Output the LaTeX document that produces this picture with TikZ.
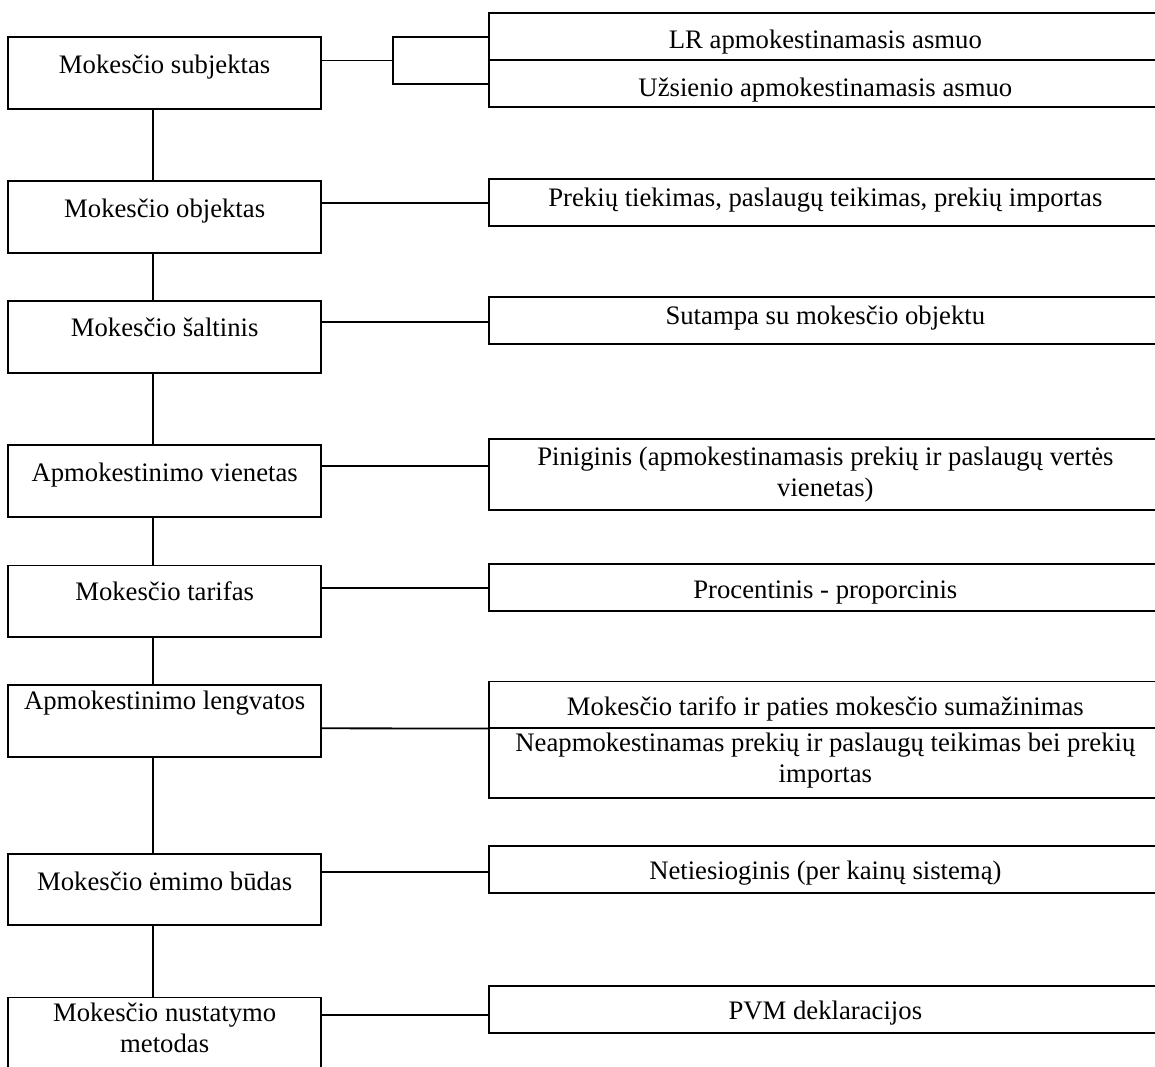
\documentclass[tikz,border=0pt]{standalone}
\usepackage{fontspec}
\setmainfont{Liberation Serif}
\begin{document}
\begin{tikzpicture}[x=1pt,y=-1pt,
  every node/.style={inner sep=0pt, outer sep=0pt},
  lbox/.style={draw, line width=1.8pt, rectangle, minimum width=312.7pt, minimum height=71.7pt},
  rbox/.style={draw, line width=1.8pt, rectangle, minimum width=673.3pt, minimum height=#1},
  rbox/.default=47pt,
  lbl/.style={anchor=mid, yshift=-6.5pt, font=\fontsize{26.7}{31}\selectfont},
  link/.style={line width=1.8pt}
]
\useasboundingbox (0,0) rectangle (1155,1066);
\clip (0,0) rectangle (1155,1066);

% left column: properties of the tax
\node[lbox] (L1) at (164.65,73.0) {};
\node[lbox] (L2) at (164.65,217.2) {};
\node[lbox] (L3) at (164.65,336.9) {};
\node[lbox] (L4) at (164.65,481.2) {};
\node[lbox] (L5) at (164.65,601.3) {};
\node[lbox] (L6) at (164.65,721.2) {};
\node[lbox] (L7) at (164.65,889.5) {};
\node[lbox] (L8) at (164.65,1033.3) {};

\node[lbl] (T1) at (164.65,65) {Mokesčio subjektas};
\node[lbl] (T2) at (164.65,209) {Mokesčio objektas};
\node[lbl] (T3) at (164.65,328) {Mokesčio šaltinis};
\node[lbl] (T4) at (164.65,473) {Apmokestinimo vienetas};
\node[lbl] (T5) at (164.65,592) {Mokesčio tarifas};
\node[lbl] (T6) at (164.65,701) {Apmokestinimo lengvatos};
\node[lbl] (T7) at (164.65,881.7) {Mokesčio ėmimo būdas};
\node[lbl] (T8a) at (164.65,1013) {Mokesčio nustatymo};
\node[lbl] (T8b) at (164.65,1044) {metodas};

% right column: their values
\node[rbox] (R1a) at (825.35,36.5) {};
\node[rbox] (R1b) at (825.35,83.8) {};
\node[rbox] (R2) at (825.35,202.5) {};
\node[rbox] (R3) at (825.35,320.7) {};
\node[rbox=70.7pt] (R4) at (825.35,474.7) {};
\node[rbox] (R5) at (825.35,587.5) {};
\node[rbox] (R6a) at (825.35,705.0) {};
\node[rbox=70pt] (R6b) at (825.35,763.3) {};
\node[rbox] (R7) at (825.35,869.2) {};
\node[rbox] (R8) at (825.35,1009.4) {};

\node[lbl] (S1a) at (825.35,40) {LR apmokestinamasis asmuo};
\node[lbl] (S1b) at (825.35,88) {Užsienio apmokestinamasis asmuo};
\node[lbl] (S2) at (825.35,198) {Prekių tiekimas, paslaugų teikimas, prekių importas};
\node[lbl] (S3) at (825.35,316) {Sutampa su mokesčio objektu};
\node[lbl] (S4a) at (825.35,457) {Piniginis (apmokestinamasis prekių ir paslaugų vertės};
\node[lbl] (S4b) at (825.35,488) {vienetas)};
\node[lbl] (S5) at (825.35,590) {Procentinis - proporcinis};
\node[lbl] (S6a) at (825.35,707) {Mokesčio tarifo ir paties mokesčio sumažinimas};
\node[lbl] (S6b) at (825.35,743) {Neapmokestinamas prekių ir paslaugų teikimas bei prekių};
\node[lbl] (S6c) at (825.35,774) {importas};
\node[lbl] (S7) at (825.35,871) {Netiesioginis (per kainų sistemą)};
\node[lbl] (S8) at (825.35,1011) {PVM deklaracijos};

% vertical spine
\foreach \a/\b in {L1/L2,L2/L3,L3/L4,L4/L5,L5/L6,L6/L7,L7/L8}
  \draw[link] ([xshift=-11.65pt]\a.south) -- ([xshift=-11.65pt]\b.north);

% horizontal links
\coordinate (h1) at (0,60.5);
\coordinate (bt) at (393.3,36.7);
\coordinate (bb) at (393.3,84);
\draw[link] (L1.east |- h1) -- (bt |- h1);
\draw[link] (R1a.west |- bt) -- (bt) -- (bb) -- (R1b.west |- bb);

\coordinate (h2) at (0,203);
\coordinate (h3) at (0,322);
\coordinate (h4) at (0,466);
\coordinate (h5) at (0,588);
\coordinate (h6) at (0,728.3);
\coordinate (h7) at (0,872);
\coordinate (h8) at (0,1015);
\draw[link] (L2.east |- h2) -- (R2.west |- h2);
\draw[link] (L3.east |- h3) -- (R3.west |- h3);
\draw[link] (L4.east |- h4) -- (R4.west |- h4);
\draw[link] (L5.east |- h5) -- (R5.west |- h5);
\draw[link] (L6.east |- h6) -- (R6a.south west);
\draw[link] (L7.east |- h7) -- (R7.west |- h7);
\draw[link] (L8.east |- h8) -- (R8.west |- h8);
\end{tikzpicture}
\end{document}
